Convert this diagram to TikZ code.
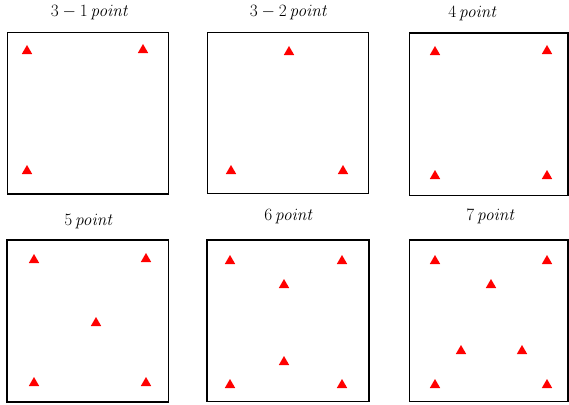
\documentclass[tikz,border=0pt]{standalone}
\usetikzlibrary{shapes.geometric}
\begin{document}
\begin{tikzpicture}[x=1pt,y=-1pt,
  panel/.style={draw=black,line width=1.1pt},
  tri/.style={regular polygon,regular polygon sides=3,fill=red,draw=none,inner sep=0pt,minimum size=12pt},
  ttl/.style={inner sep=0pt,font=\fontsize{16.5}{18}\selectfont}]
\useasboundingbox (0,0) rectangle (569,404);
\fill[white] (0,0) rectangle (569,404);
% panels
\draw[panel] (7.5,32.5) rectangle (168.5,194);
\draw[panel] (207.5,32.5) rectangle (368.5,193.5);
\draw[panel] (409.5,33) rectangle (568,195.5);
\draw[panel] (7,240) rectangle (168.5,402);
\draw[panel] (207,240) rectangle (369,401.5);
\draw[panel] (409.5,240) rectangle (568,401.5);
% titles
\node[ttl] (t1) at (90,13) {$3-1\,\mathit{point}$};
\node[ttl] (t2) at (289,13) {$3-2\,\mathit{point}$};
\node[ttl] (t3) at (473,14) {$4\,\mathit{point}$};
\node[ttl] (t4) at (89,222) {$5\,\mathit{point}$};
\node[ttl] (t5) at (289,217) {$6\,\mathit{point}$};
\node[ttl] (t6) at (491,217) {$7\,\mathit{point}$};
% triangles
\node[tri] (a1) at (27,51) {};
\node[tri] (a2) at (143,50) {};
\node[tri] (a3) at (27,171) {};
\node[tri] (b1) at (289,52) {};
\node[tri] (b2) at (231,171) {};
\node[tri] (b3) at (343,171) {};
\node[tri] (c1) at (435,52) {};
\node[tri] (c2) at (547,51) {};
\node[tri] (c3) at (435,176) {};
\node[tri] (c4) at (547,176) {};
\node[tri] (d1) at (34,260) {};
\node[tri] (d2) at (146,259) {};
\node[tri] (d3) at (96,323) {};
\node[tri] (d4) at (34,383) {};
\node[tri] (d5) at (146,383) {};
\node[tri] (e1) at (230,261) {};
\node[tri] (e2) at (342,261) {};
\node[tri] (e3) at (284,285) {};
\node[tri] (e4) at (284,362) {};
\node[tri] (e5) at (230,385) {};
\node[tri] (e6) at (342,385) {};
\node[tri] (f1) at (435,261) {};
\node[tri] (f2) at (547,261) {};
\node[tri] (f3) at (491,285) {};
\node[tri] (f4) at (461,351) {};
\node[tri] (f5) at (522,351) {};
\node[tri] (f6) at (435,385) {};
\node[tri] (f7) at (547,385) {};
\end{tikzpicture}
\end{document}
